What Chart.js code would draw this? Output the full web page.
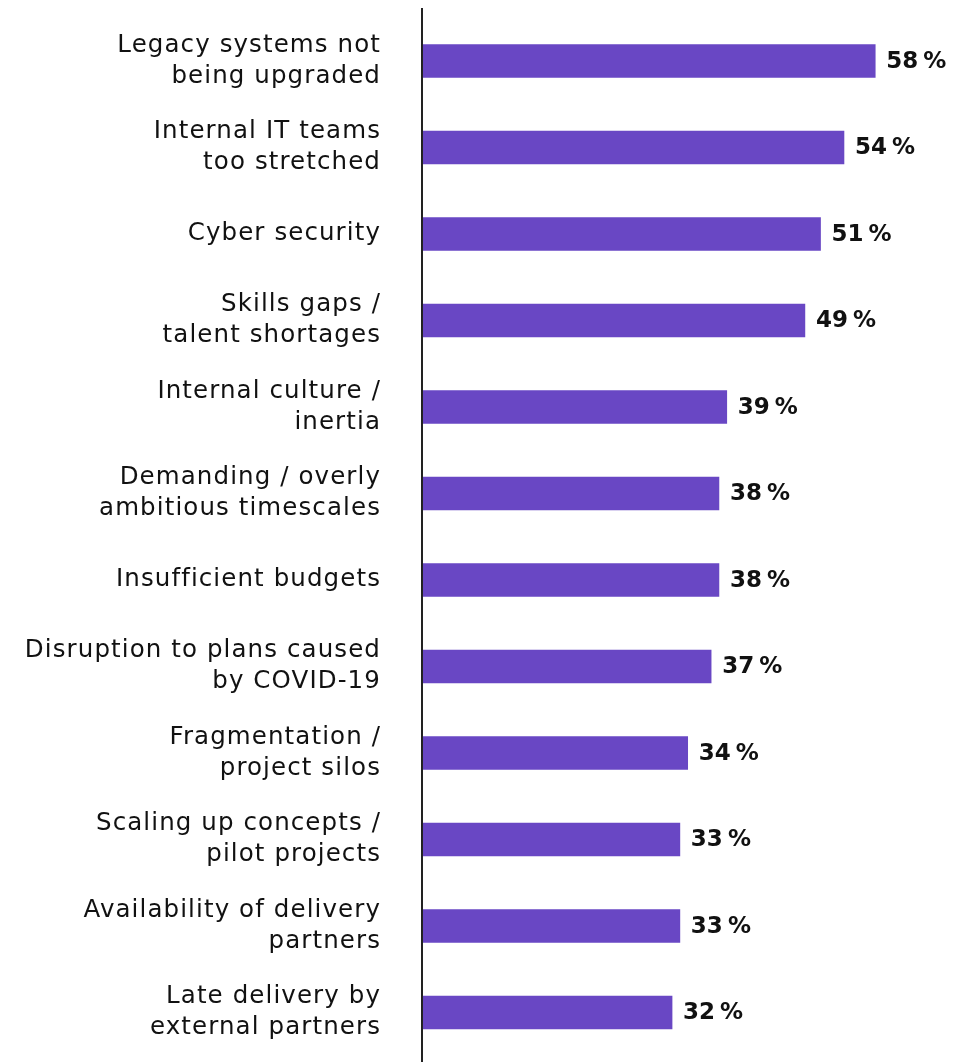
<!DOCTYPE html>
<html>
<head>
<meta charset="utf-8">
<script src="https://cdn.jsdelivr.net/npm/chart.js@4.4.0/dist/chart.umd.min.js"></script>
<style>
html,body{margin:0;padding:0;background:#fff;}
#wrap{width:969px;height:1062px;}
</style>
</head>
<body>
<div id="wrap"><canvas id="c" width="969" height="1062"></canvas></div>
<script>
const categories = [
  ["Legacy systems not", "being upgraded"],
  ["Internal IT teams", "too stretched"],
  ["Cyber security"],
  ["Skills gaps /", "talent shortages"],
  ["Internal culture /", "inertia"],
  ["Demanding / overly", "ambitious timescales"],
  ["Insufficient budgets"],
  ["Disruption to plans caused", "by COVID-19"],
  ["Fragmentation /", "project silos"],
  ["Scaling up concepts /", "pilot projects"],
  ["Availability of delivery", "partners"],
  ["Late delivery by", "external partners"]
];
const values = [58, 54, 51, 49, 39, 38, 38, 37, 34, 33, 33, 32];
const valueSuffix = "%";

const FONT = "'DejaVu Sans', sans-serif";

const spacingPlugin = {
  id: 'spacing',
  beforeInit(chart) { chart.ctx.letterSpacing = '1.1px'; },
  beforeUpdate(chart) { chart.ctx.letterSpacing = '1.1px'; },
  beforeDraw(chart) { chart.ctx.letterSpacing = '1.1px'; }
};

const axisLinePlugin = {
  id: 'axisLine',
  afterDraw(chart) {
    const ctx = chart.ctx;
    const x = chart.chartArea.left;
    ctx.save();
    ctx.strokeStyle = '#222';
    ctx.lineWidth = 2;
    ctx.beginPath();
    ctx.moveTo(x, 8);
    ctx.lineTo(x, chart.height);
    ctx.stroke();
    ctx.restore();
  }
};

const valueLabelPlugin = {
  id: 'valueLabels',
  afterDatasetsDraw(chart) {
    const ctx = chart.ctx;
    const meta = chart.getDatasetMeta(0);
    ctx.save();
    ctx.letterSpacing = '0px';
    ctx.fillStyle = '#111';
    ctx.textBaseline = 'middle';
    ctx.textAlign = 'left';
    meta.data.forEach((bar, i) => {
      const v = chart.data.datasets[0].data[i];
      let x = bar.x + 11;
      const y = bar.y + 1;
      ctx.font = "bold 23px " + FONT;
      const num = String(v);
      ctx.fillText(num, x, y);
      x += ctx.measureText(num).width + 5;
      ctx.fillText(valueSuffix, x, y);
    });
    ctx.restore();
  }
};

new Chart(document.getElementById('c'), {
  type: 'bar',
  data: {
    labels: categories,
    datasets: [{
      data: values,
      backgroundColor: '#6947C4',
      barThickness: 33,
      categoryPercentage: 1,
      barPercentage: 1
    }]
  },
  options: {
    indexAxis: 'y',
    responsive: false,
    animation: false,
    layout: { padding: { top: 17.75, bottom: 6.25, left: 0, right: 0 } },
    plugins: { legend: { display: false }, tooltip: { enabled: false } },
    scales: {
      x: { display: false, min: 0, max: 70 },
      y: {
        grid: { display: false, drawTicks: false },
        border: { display: false },
        afterFit(scale) {
          scale.width = 422;
          scale.paddingTop = 0;
          scale.paddingBottom = 0;
        },
        ticks: {
          color: '#111',
          padding: 41,
          font: { family: FONT, size: 24.5, lineHeight: 1.27 }
        }
      }
    }
  },
  plugins: [spacingPlugin, axisLinePlugin, valueLabelPlugin]
});
</script>
</body>
</html>
